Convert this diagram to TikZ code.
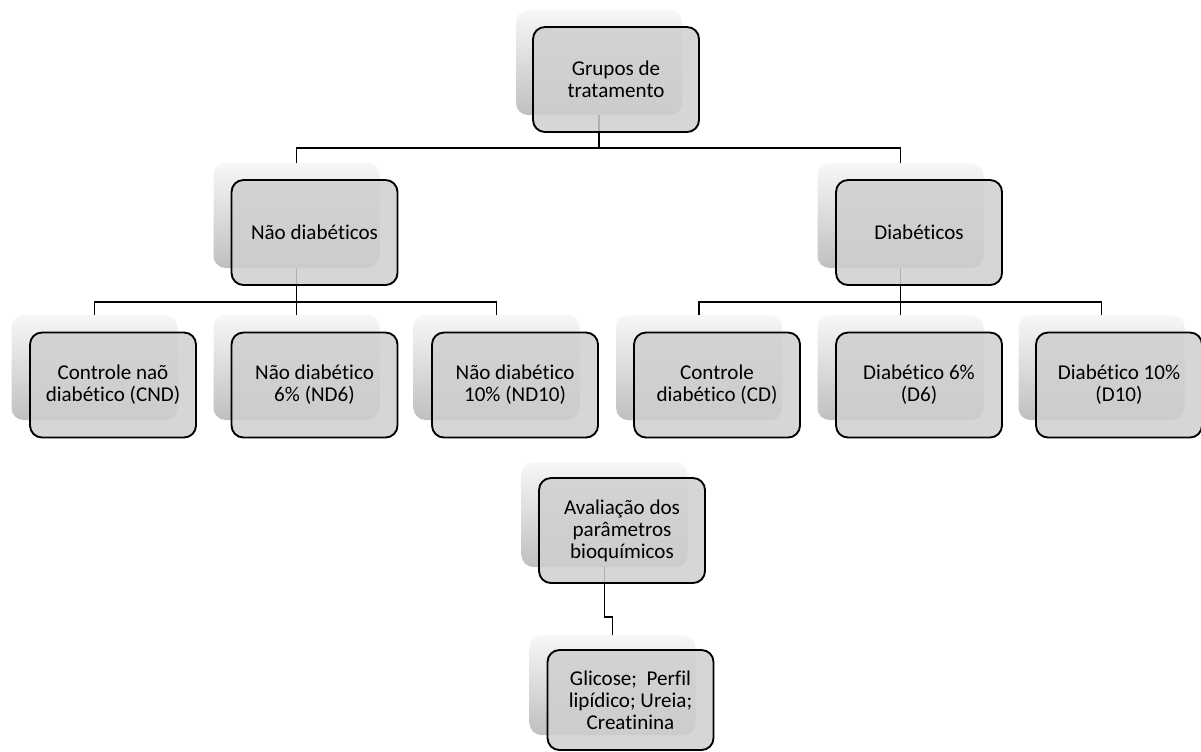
\documentclass[tikz,border=0pt]{standalone}
\usepackage{fontspec}
\setmainfont{Carlito}[Ligatures=NoCommon]
\tikzset{
  backbox/.style={rounded corners=9pt, shading=axis, top color=black!3,
    bottom color=black!25, minimum width=124.5pt, minimum height=78.75pt,
    inner sep=0pt},
  frontbox/.style={draw=black, line width=1.4pt, rounded corners=9pt,
    fill=black!19, fill opacity=0.85, text opacity=1,
    minimum width=124.5pt, minimum height=78.75pt, inner sep=0pt,
    align=center, font=\fontsize{15.8}{16.5}\selectfont},
  link/.style={line width=1.4pt}
}
\begin{document}
\begin{tikzpicture}[x=0.75pt,y=-0.75pt]
\useasboundingbox (0,0) rectangle (1201,751);

% Drawing back boxes
\node [backbox] (rootb) at (599,62.5) {};
\node [backbox] (ndb) at (296.5,215.5) {};
\node [backbox] (db) at (900.5,215.5) {};
\node [backbox] (cndb) at (94.5,367.5) {};
\node [backbox] (nd6b) at (296.5,367.5) {};
\node [backbox] (nd10b) at (496.5,367.5) {};
\node [backbox] (cdb) at (699,367.5) {};
\node [backbox] (d6b) at (900.5,367.5) {};
\node [backbox] (d10b) at (1101.5,367.5) {};
\node [backbox] (avb) at (604.5,514.5) {};
\node [backbox, minimum height=75pt] (glb) at (612.5,685) {};

% Drawing links root -> groups
\draw [link] (rootb.south) -- ++(0,33) -| (ndb.north);
\draw [link] (rootb.south) -- ++(0,33) -| (db.north);

% Drawing links Nao diabeticos
\draw [link] (ndb.south) -- ++(0,34) -| (cndb.north);
\draw [link] (ndb.south) -- ++(0,34) -| (nd6b.north);
\draw [link] (ndb.south) -- ++(0,34) -| (nd10b.north);

% Drawing links Diabeticos
\draw [link] (db.south) -- ++(0,34) -| (cdb.north);
\draw [link] (db.south) -- ++(0,34) -| (d6b.north);
\draw [link] (db.south) -- ++(0,34) -| (d10b.north);

% Drawing link Avaliacao -> Glicose
\draw [link] (avb.south) -- ++(0,50) -| (glb.north);

% Drawing front boxes
\node [frontbox] (root) at (616,79.5) {Grupos de\\tratamento};
\node [frontbox] (nd) at (314.5,232.5) {Não diabéticos};
\node [frontbox] (d) at (919,232.5) {Diabéticos};
\node [frontbox] (cnd) at (113,385) {Controle naõ\\diabético (CND)};
\node [frontbox] (nd6) at (314.5,385) {Não diabético\\6\% (ND6)};
\node [frontbox] (nd10) at (515,385) {Não diabético\\10\% (ND10)};
\node [frontbox] (cd) at (717,385) {Controle\\diabético (CD)};
\node [frontbox] (d6) at (919,385) {Diabético 6\%\\(D6)};
\node [frontbox] (d10) at (1119,385) {Diabético 10\%\\(D10)};
\node [frontbox] (av) at (622,530.5) {Avaliação dos\\parâmetros\\bioquímicos};
\node [frontbox, minimum height=75pt] (gl) at (630.5,700) {Glicose;\ \ Perfil\\lipídico; Ureia;\\Creatinina};
\end{tikzpicture}
\end{document}
